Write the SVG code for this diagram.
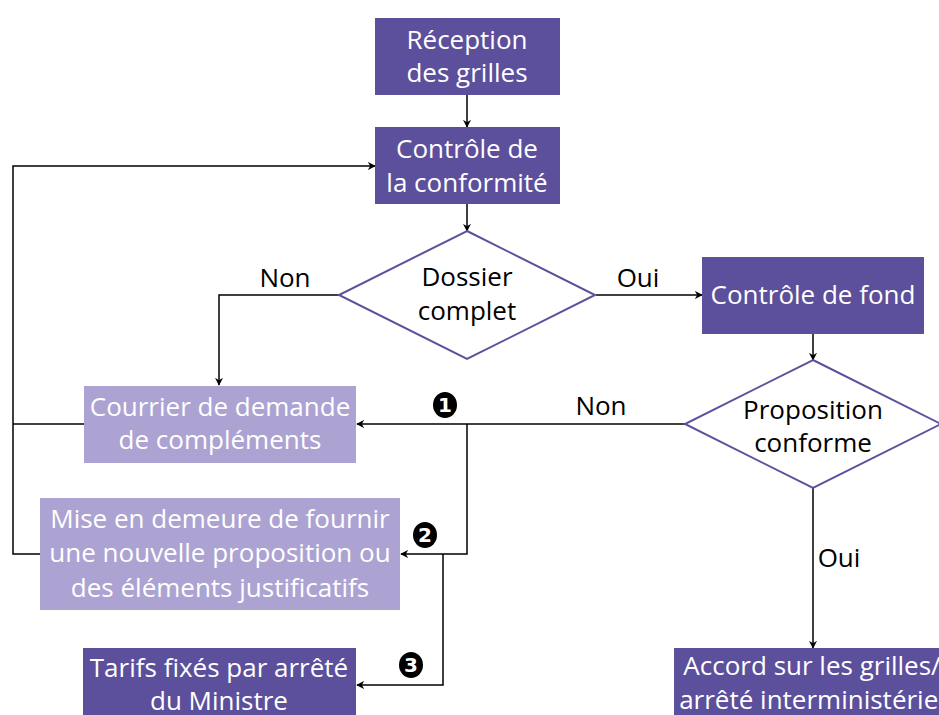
<svg xmlns="http://www.w3.org/2000/svg" width="939" height="715" viewBox="0 0 939 715">
<defs>
<style>
.dark{fill:#5c4f9c}
.light{fill:#aca3d3}
.dia{fill:#fff;stroke:#5c4f9c;stroke-width:2}
.wt{fill:#fff;font-family:"Open Sans","Noto Sans",sans-serif;font-size:26px;text-anchor:middle}
.bt{fill:#000;font-family:"Open Sans","Noto Sans",sans-serif;font-size:26px;text-anchor:middle}
.conn path{fill:none;stroke:#000;stroke-width:1.5;marker-end:url(#arr)}
.conn path.plain{marker-end:none}
.num{fill:#000}
.nt{fill:#fff;font-family:"DejaVu Sans",sans-serif;font-size:20px;font-weight:bold;text-anchor:middle}
</style>
<marker id="arr" viewBox="0 0 10 10" refX="9" refY="5" markerWidth="8" markerHeight="8" markerUnits="userSpaceOnUse" orient="auto">
<path d="M0,0 L10,5 L0,10 L3,5 z" fill="#000"/>
</marker>
</defs>
<rect width="939" height="715" fill="#fff"/>
<g class="conn" id="connectors">
<path d="M467,95 V127"/>
<path d="M467,204 V231"/>
<path d="M596,295 H702"/>
<path d="M339,295 H219 V385"/>
<path class="plain" d="M84,424 H13"/>
<path d="M40,554 H13 V166 H375"/>
<path d="M813,333 V360"/>
<path d="M685,424 H357"/>
<path d="M467,424 V554 H401"/>
<path d="M443,554 V685 H357"/>
<path d="M813,488 V648"/>
</g>
<g id="reception"><rect class="dark" x="375" y="18" width="185" height="77"/><text class="wt" x="467" y="49">Réception</text><text class="wt" x="467" y="82">des grilles</text></g>
<g id="controle"><rect class="dark" x="375" y="127" width="185" height="77"/><text class="wt" x="467" y="158">Contrôle de</text><text class="wt" x="467" y="192">la conformité</text></g>
<g id="dossier"><polygon class="dia" points="467,231 595,295 467,359 339,295"/><text class="bt" x="467" y="286">Dossier</text><text class="bt" x="467" y="320">complet</text></g>
<g id="fond"><rect class="dark" x="702" y="257" width="222" height="77"/><text class="wt" x="813" y="304">Contrôle de fond</text></g>
<g id="proposition"><polygon class="dia" points="813,360 941,424 813,488 685,424"/><text class="bt" x="813" y="419">Proposition</text><text class="bt" x="813" y="452">conforme</text></g>
<g id="courrier"><rect class="light" x="84" y="386" width="272" height="77"/><text class="wt" x="220" y="416">Courrier de demande</text><text class="wt" x="220" y="449">de compléments</text></g>
<g id="mise"><rect class="light" x="40" y="498" width="360" height="112"/><text class="wt" x="220" y="528">Mise en demeure de fournir</text><text class="wt" x="220" y="562">une nouvelle proposition ou</text><text class="wt" x="220" y="597">des éléments justificatifs</text></g>
<g id="tarifs"><rect class="dark" x="83" y="648" width="273" height="70"/><text class="wt" x="219" y="677">Tarifs fixés par arrêté</text><text class="wt" x="219" y="710">du Ministre</text></g>
<g id="accord"><rect class="dark" x="674" y="648" width="278" height="70"/><text class="wt" x="812" y="675">Accord sur les grilles/</text><text class="wt" x="812" y="709">arrêté interministériel</text></g>
<g id="labels">
<text class="bt" x="285" y="287">Non</text>
<text class="bt" x="638" y="287">Oui</text>
<text class="bt" x="601" y="415">Non</text>
<text class="bt" x="839" y="567">Oui</text>
</g>
<g id="markers">
<ellipse class="num" cx="445" cy="405" rx="12" ry="13"/><text class="nt" x="445" y="412">1</text>
<ellipse class="num" cx="425" cy="535" rx="12" ry="13"/><text class="nt" x="425" y="542">2</text>
<ellipse class="num" cx="411" cy="665" rx="12" ry="13"/><text class="nt" x="411" y="672">3</text>
</g>
</svg>
